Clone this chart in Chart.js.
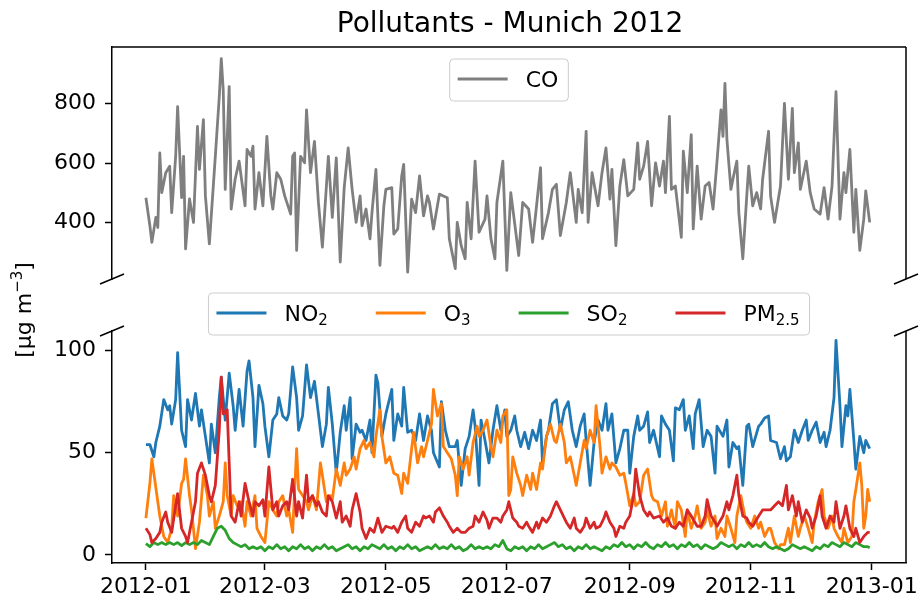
<!DOCTYPE html>
<html>
<head>
<meta charset="utf-8">
<script src="https://cdn.jsdelivr.net/npm/chart.js@4.4.1/dist/chart.umd.min.js"></script>
<style>
  html, body { margin: 0; padding: 0; background: #fff; }
  #wrap { position: relative; width: 923px; height: 605px; overflow: hidden; font-family: "DejaVu Sans", sans-serif; color: #000; }
  #wrap canvas { position: absolute; left: 0; top: 0; }
  #title { position: absolute; left: 112px; width: 796px; top: 9px; text-align: center; font-size: 28px; line-height: 28px; }
  #ylabel { position: absolute; left: -76px; top: 295px; width: 200px; height: 30px; line-height: 30px; text-align: center; font-size: 22px; transform: rotate(-90deg); }
  #ylabel sup { font-size: 15px; vertical-align: 9px; line-height: 0; }
</style>
</head>
<body>
<div id="wrap">
  <canvas id="top" width="923" height="605"></canvas>
  <canvas id="bottom" width="923" height="605"></canvas>
  <div id="title">Pollutants - Munich 2012</div>
  <div id="ylabel">[µg m<sup>−3</sup>]</div>
</div>
<script>
// x axis: day of year 2012 (0 = 2012-01-01)
const monthTickDays = [0, 60, 121, 182, 244, 305, 366];
const monthTickLabels = ['2012-01', '2012-03', '2012-05', '2012-07', '2012-09', '2012-11', '2013-01'];
const coTicks = [400, 600, 800];
const lowTicks = [0, 50, 100];

// CO
const coDays = [0,2,3,5,6,7,8,10,12,13,15,16,18,19,20,22,24,26,27,29,30,32,35,37,38,39,40,42,43,45,47,50,51,53,54,55,57,59,61,63,64,66,68,70,73,74,75,76,78,80,81,83,85,87,89,92,94,96,98,100,102,104,106,108,109,111,113,114,116,118,120,121,124,125,127,129,130,132,134,136,138,140,142,143,145,148,150,152,153,156,157,159,161,162,164,166,168,171,172,174,176,177,180,182,184,186,188,190,193,195,197,199,200,203,205,207,209,212,214,217,218,220,222,223,225,228,230,232,234,235,237,239,241,243,246,248,249,251,253,255,257,259,261,262,264,265,267,270,271,273,275,276,278,280,282,284,286,288,290,291,292,293,295,296,298,299,301,303,304,306,308,310,311,314,315,317,320,322,324,326,327,329,330,333,335,337,340,342,344,346,348,350,352,353,355,357,358,360,362,363,365];
const coValues = [484,390,334,418,384,634,501,568,590,434,623,790,484,623,312,480,401,723,579,746,490,329,623,823,951,845,512,857,446,546,607,457,646,623,657,446,568,457,690,490,446,568,546,490,429,623,634,307,623,601,779,568,673,468,318,623,418,618,268,518,651,512,401,490,390,446,346,434,579,257,457,512,518,362,379,557,596,234,479,434,557,423,490,468,379,496,490,484,346,246,401,323,279,468,346,607,368,412,490,346,279,468,607,240,501,396,290,468,446,334,457,585,346,434,512,529,357,468,568,401,512,434,707,401,568,457,568,651,479,579,323,523,612,490,512,668,546,590,673,457,601,523,607,501,757,512,523,351,640,501,696,379,590,412,523,535,446,607,779,690,868,679,512,546,607,434,279,490,590,457,501,446,546,707,490,401,523,801,546,784,568,668,512,607,501,446,429,518,412,523,840,412,568,501,646,368,512,307,412,507,401];

// NO2
const no2Days = [0,2,4,5,7,9,11,12,13,15,16,18,20,21,23,25,27,28,30,32,33,35,37,38,40,42,44,45,47,49,51,52,54,55,57,59,60,62,64,66,67,69,71,72,74,76,77,79,81,83,85,87,89,91,92,94,96,98,100,101,103,104,106,108,109,111,113,114,116,117,119,121,124,125,127,129,130,132,134,136,138,140,142,144,145,148,149,151,153,156,157,159,161,163,165,166,168,169,171,173,175,177,179,181,182,184,186,187,189,191,193,195,197,199,200,202,203,205,207,209,211,213,215,217,219,221,222,224,226,228,230,232,233,235,237,239,241,243,244,246,248,249,251,253,254,256,259,260,262,264,266,267,269,271,272,274,276,277,279,281,283,285,287,288,291,293,294,296,298,299,301,303,304,306,309,310,312,314,315,318,320,322,323,325,327,329,331,333,334,336,338,340,342,343,345,347,348,350,351,353,354,355,357,358,360,362,363,365];
const no2Values = [54,54,48,55,63,76,71,73,64,76,99,61,53,76,66,79,63,71,58,45,64,50,77,87,66,89,73,61,81,63,90,95,77,53,83,74,63,48,66,69,77,68,66,69,92,77,61,68,93,77,85,69,53,64,82,64,40,60,73,61,77,47,64,60,61,56,66,50,88,84,58,69,81,56,69,63,82,60,61,56,69,56,68,61,50,43,75,61,53,53,56,34,52,58,71,63,34,66,56,45,61,73,61,71,58,61,68,61,53,60,52,61,56,66,45,58,61,74,76,61,71,75,61,53,63,69,56,34,55,66,61,74,61,69,45,52,61,61,40,58,68,61,63,70,55,61,48,68,64,61,46,72,71,76,61,68,52,69,76,53,61,58,40,63,58,66,43,55,52,53,34,63,64,53,63,64,67,68,56,55,47,53,46,48,61,55,61,66,56,61,65,55,60,53,61,77,105,73,53,73,68,81,56,42,58,50,56,52];

// O3
const o3Days = [0,2,3,4,6,7,9,11,13,14,16,18,19,20,22,23,25,27,29,31,32,34,35,37,39,40,41,43,44,46,48,50,51,53,55,56,58,60,61,62,64,66,67,69,71,72,74,76,77,79,81,82,84,86,88,89,91,93,94,96,98,100,101,103,105,106,108,110,111,113,115,116,118,119,121,123,125,127,129,130,132,134,135,137,139,140,142,144,145,147,149,150,152,154,156,157,158,160,162,163,165,167,168,170,172,174,175,177,179,180,182,183,184,185,187,189,190,192,194,195,197,199,200,202,204,206,207,209,211,212,214,216,217,219,221,222,224,226,227,229,230,232,234,235,237,239,241,242,244,246,247,249,251,253,255,256,258,260,262,263,265,267,268,270,272,273,275,277,278,280,282,283,285,287,288,290,292,293,295,297,298,300,302,303,305,307,309,310,312,314,315,317,319,320,322,324,325,327,329,330,332,334,336,337,339,341,342,344,346,347,349,351,352,354,356,357,358,360,361,362,363,364,365];
const o3Values = [18,35,47,40,26,19,9,6,13,29,19,35,37,47,29,22,3,16,39,29,19,26,13,19,26,45,29,19,29,24,26,14,26,19,29,13,9,6,16,26,22,19,26,29,19,22,11,52,32,29,26,22,29,22,45,39,26,29,27,42,34,45,39,42,48,42,52,56,52,55,48,58,71,58,45,48,40,39,30,40,35,52,60,45,53,48,56,64,81,68,74,53,50,47,39,29,48,42,48,39,55,63,58,61,66,53,48,61,55,68,71,29,32,48,40,34,29,39,32,40,32,45,42,58,64,56,55,64,55,45,48,39,34,45,56,52,61,55,73,53,40,48,42,45,43,39,40,35,24,30,24,26,39,42,29,27,26,19,26,14,22,13,26,22,9,22,13,19,24,13,16,22,14,19,8,13,9,19,13,6,19,29,19,16,13,19,13,16,9,13,13,6,3,5,5,13,6,19,9,13,19,13,6,16,26,32,19,13,19,13,9,6,13,6,9,26,32,45,34,13,19,32,26];

// SO2
const so2Days = [0,2,4,6,8,10,12,14,16,18,20,22,24,26,28,30,32,34,36,38,40,42,44,46,48,50,52,54,56,58,60,62,64,66,68,70,72,74,76,78,80,82,84,86,88,90,92,94,96,98,100,102,104,106,108,110,112,114,116,118,120,122,124,126,128,130,132,134,136,138,140,142,144,146,148,150,152,154,156,158,160,162,164,166,168,170,172,174,176,178,180,182,184,186,188,190,192,194,196,198,200,202,204,206,208,210,212,214,216,218,220,222,224,226,228,230,232,234,236,238,240,242,244,246,248,250,252,254,256,258,260,262,264,266,268,270,272,274,276,278,280,282,284,286,288,290,292,294,296,298,300,302,304,306,308,310,312,314,316,318,320,322,324,326,328,330,332,334,336,338,340,342,344,346,348,350,352,354,356,358,360,362,364,365];
const so2Values = [5.5,4,6,5,6,5,6,5,6,4.5,6,5,6,5,7,6,5,9,13,14,12,8,6,5,4,5,3,4,3,4,2,4,3,5,3,4,2,4,3,5,3,4,2,4,3,5,3,4,2,3,4,5,3,4,2,4,3,5,4,3,5,3,4,2,4,3,5,3,4,2,3,4,3,5,3,4,3,5,3,4,2,3,5,3,4,3,4,3,5,4,7,3,2,4,3,4,2,4,3,5,3,4,5,6,4,5,3,4,2,4,3,5,3,4,3,2,4,3,5,4,6,4,5,3,5,4,6,4,3,5,4,6,4,5,3,5,4,6,4,5,3,5,4,3,4,6,5,4,5,3,5,4,6,4,5,4,6,4,3,4,3,2,3,5,4,3,4,3,2,4,3,5,4,6,5,4,6,5,4,6,5,4,4,3.5];

// PM2.5
const pmDays = [0,2,3,5,7,8,10,11,13,15,16,18,20,21,23,25,26,28,30,32,33,35,37,38,39,41,42,43,45,47,48,50,52,54,55,57,59,60,62,64,66,67,69,71,72,74,76,77,79,81,82,84,86,87,89,91,92,94,96,98,99,101,103,104,106,108,109,111,113,115,117,119,121,124,125,127,129,131,132,134,136,138,140,141,143,145,146,148,150,152,153,155,157,159,161,163,165,166,168,170,172,173,175,177,179,180,182,183,185,187,188,190,192,193,195,197,198,200,202,204,206,207,209,211,212,214,216,217,219,221,222,224,226,227,229,231,232,234,236,237,239,241,242,244,246,247,249,251,253,254,256,259,261,263,265,267,269,271,273,275,278,280,282,283,285,287,288,291,293,294,296,298,299,301,303,304,306,309,311,313,315,317,319,321,323,324,326,328,329,331,333,335,336,338,340,341,343,345,347,348,350,352,353,355,357,358,360,362,364,365];
const pmValues = [13,10,6,8,11,16,21,16,11,24,30,13,9,6,16,26,40,45,39,29,26,34,61,87,69,71,45,19,16,26,19,35,26,19,26,24,27,19,43,22,26,19,24,26,22,37,19,26,18,39,26,29,24,26,21,19,29,26,18,26,16,19,14,22,30,21,13,8,13,11,18,11,14,13,14,11,16,19,13,11,16,14,19,18,19,16,21,23,19,16,14,11,13,11,11,13,14,19,16,21,17,13,18,18,16,19,22,26,18,16,14,13,16,14,11,16,13,18,16,19,24,26,22,18,16,13,18,13,11,14,18,13,16,13,14,18,21,16,13,9,14,13,16,19,29,42,29,22,19,21,18,19,16,18,14,13,16,14,22,19,14,14,19,27,19,16,14,19,26,22,29,39,29,19,18,16,14,19,22,22,22,24,26,24,34,22,29,19,26,16,22,18,13,19,29,19,13,19,16,26,13,19,24,13,9,13,6,9,11,11];

const X_MIN = -17.1, X_MAX = 383.3;
const FONT = 'DejaVu Sans';
const LINE_W = 2.8;

function pts(days, values) {
  return days.map((d, i) => ({ x: d, y: values[i] }));
}

function drawLegend(ctx, area, spec) {
  const handle = 50, textGap = 18, colGap = 48, padL = 8, padR = 10;
  ctx.save();
  const widths = spec.items.map(it => {
    ctx.font = '22px "' + FONT + '"';
    let w = ctx.measureText(it.main).width;
    if (it.sub) { ctx.font = '15px "' + FONT + '"'; w += ctx.measureText(it.sub).width; }
    return w;
  });
  let total = padL + padR;
  widths.forEach((w, i) => { total += handle + textGap + w + (i < widths.length - 1 ? colGap : 0); });
  const bx = (area.left + area.right) / 2 - total / 2;
  ctx.beginPath();
  if (ctx.roundRect) ctx.roundRect(bx, spec.top, total, spec.height, 4);
  else ctx.rect(bx, spec.top, total, spec.height);
  ctx.fillStyle = 'rgba(255,255,255,0.8)';
  ctx.fill();
  ctx.strokeStyle = '#cccccc';
  ctx.lineWidth = 1;
  ctx.stroke();
  const ly = spec.top + spec.height / 2 - 1;
  let x = bx + padL;
  spec.items.forEach(it => {
    ctx.strokeStyle = it.color;
    ctx.lineWidth = LINE_W;
    ctx.beginPath();
    ctx.moveTo(x, ly);
    ctx.lineTo(x + handle, ly);
    ctx.stroke();
    x += handle + textGap;
    ctx.fillStyle = '#000';
    ctx.textBaseline = 'alphabetic';
    ctx.textAlign = 'left';
    ctx.font = '22px "' + FONT + '"';
    ctx.fillText(it.main, x, ly + 8);
    let w = ctx.measureText(it.main).width;
    if (it.sub) {
      ctx.font = '15px "' + FONT + '"';
      ctx.fillText(it.sub, x + w, ly + 12);
      w += ctx.measureText(it.sub).width;
    }
    x += w + colGap;
  });
  ctx.restore();
}

// spines, break marks and legend drawn on top of each panel
const framePlugin = {
  id: 'frame',
  afterDraw(chart, args, opts) {
    const { ctx, chartArea: a } = chart;
    ctx.save();
    ctx.strokeStyle = '#000';
    ctx.lineWidth = 1.5;
    ctx.beginPath();
    if (opts.topSpine) { ctx.moveTo(a.left, a.top); ctx.lineTo(a.right, a.top); }
    ctx.moveTo(a.right, a.top);
    ctx.lineTo(a.right, a.bottom);
    ctx.stroke();
    const y = opts.breakAt === 'bottom' ? a.bottom : a.top;
    [a.left, a.right].forEach(x => {
      ctx.beginPath();
      ctx.moveTo(x - 12, y + 5);
      ctx.lineTo(x + 12, y - 5);
      ctx.stroke();
    });
    ctx.restore();
    drawLegend(ctx, a, opts.legend);
  }
};

function yScale(min, max, tickValues) {
  return {
    min: min, max: max,
    afterFit(s) { s.width = 112; },
    afterBuildTicks(s) { s.ticks = tickValues.map(v => ({ value: v })); },
    grid: { drawOnChartArea: false, drawTicks: true, tickLength: 7, tickColor: '#000', tickWidth: 1.5 },
    border: { display: true, color: '#000', width: 1.5 },
    ticks: { color: '#000', padding: 9, font: { family: FONT, size: 22 } }
  };
}

new Chart(document.getElementById('top'), {
  type: 'line',
  data: {
    datasets: [{ label: 'CO', data: pts(coDays, coValues), borderColor: '#7f7f7f', borderWidth: LINE_W, borderJoinStyle: 'round', pointRadius: 0, tension: 0 }]
  },
  options: {
    responsive: false, animation: false, devicePixelRatio: 1,
    layout: { padding: { top: 47, right: 17, bottom: 326, left: 0 } },
    plugins: {
      legend: { display: false }, tooltip: { enabled: false },
      frame: { topSpine: true, breakAt: 'bottom', legend: { top: 59, height: 42, items: [{ main: 'CO', color: '#7f7f7f' }] } }
    },
    scales: {
      x: { type: 'linear', min: X_MIN, max: X_MAX, display: false },
      y: yScale(211, 990, coTicks)
    }
  },
  plugins: [framePlugin]
});

new Chart(document.getElementById('bottom'), {
  type: 'line',
  data: {
    datasets: [
      { label: 'NO2', data: pts(no2Days, no2Values), borderColor: '#1f77b4', order: 4 },
      { label: 'O3', data: pts(o3Days, o3Values), borderColor: '#ff7f0e', order: 3 },
      { label: 'SO2', data: pts(so2Days, so2Values), borderColor: '#2ca02c', order: 2 },
      { label: 'PM2.5', data: pts(pmDays, pmValues), borderColor: '#d62728', order: 1 }
    ].map(d => Object.assign(d, { borderWidth: LINE_W, borderJoinStyle: 'round', pointRadius: 0, tension: 0 }))
  },
  options: {
    responsive: false, animation: false, devicePixelRatio: 1,
    layout: { padding: { top: 331, right: 17, bottom: 0, left: 0 } },
    plugins: {
      legend: { display: false }, tooltip: { enabled: false },
      frame: {
        topSpine: false, breakAt: 'top',
        legend: {
          top: 293, height: 42,
          items: [
            { main: 'NO', sub: '2', color: '#1f77b4' },
            { main: 'O', sub: '3', color: '#ff7f0e' },
            { main: 'SO', sub: '2', color: '#2ca02c' },
            { main: 'PM', sub: '2.5', color: '#d62728' }
          ]
        }
      }
    },
    scales: {
      x: {
        type: 'linear', min: X_MIN, max: X_MAX,
        afterFit(s) { s.height = 42; },
        afterBuildTicks(s) { s.ticks = monthTickDays.map(v => ({ value: v })); },
        grid: { drawOnChartArea: false, drawTicks: true, tickLength: 7, tickColor: '#000', tickWidth: 1.5 },
        border: { display: true, color: '#000', width: 1.5 },
        ticks: {
          color: '#000', padding: 4, autoSkip: false, maxRotation: 0,
          font: { family: FONT, size: 22 },
          callback: v => monthTickLabels[monthTickDays.indexOf(v)]
        }
      },
      y: yScale(-4, 109.6, lowTicks)
    }
  },
  plugins: [framePlugin]
});
</script>
</body>
</html>
